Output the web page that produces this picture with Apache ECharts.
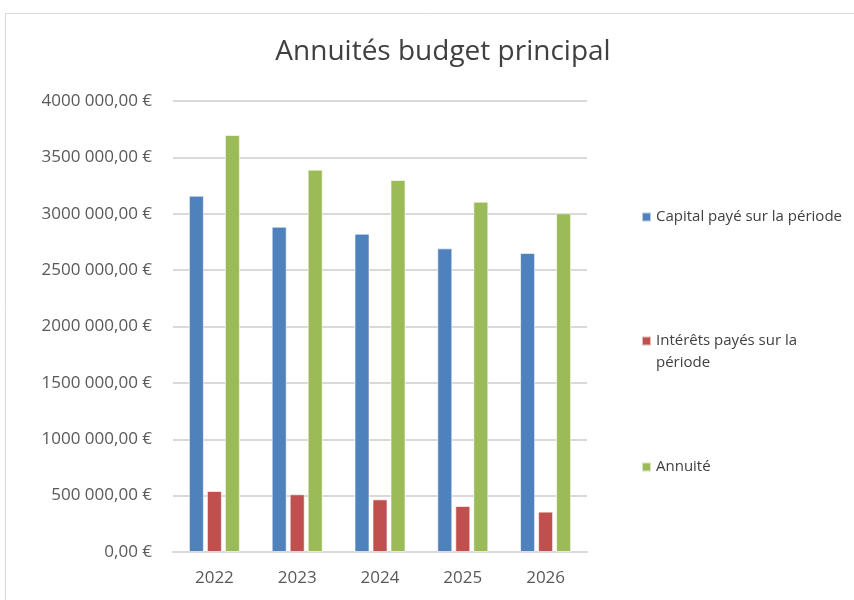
<!DOCTYPE html>
<html>
<head>
<meta charset="utf-8">
<script src="https://cdn.jsdelivr.net/npm/echarts@6/dist/echarts.min.js"></script>
<style>html,body{margin:0;padding:0;background:#fff}#c{width:854px;height:600px}</style>
</head>
<body>
<div id="c"></div>
<script>
const categories = ['2022', '2023', '2024', '2025', '2026'];
const capital = [3160000, 2885000, 2823000, 2693000, 2652000];
const interets = [541000, 512000, 467000, 408000, 358000];
const annuite = [3698000, 3391000, 3299000, 3107000, 3004000];
const seriesNames = ['Capital payé sur la période', 'Intérêts payés sur la période', 'Annuité'];
const tickValues = [0, 500000, 1000000, 1500000, 2000000, 2500000, 3000000, 3500000, 4000000];
const tickLabels = ['0,00 €', '500 000,00 €', '1000 000,00 €', '1500 000,00 €', '2000 000,00 €', '2500 000,00 €', '3000 000,00 €', '3500 000,00 €', '4000 000,00 €'];

const font = '"Open Sans", sans-serif';
const chart = echarts.init(document.getElementById('c'), null, {renderer: 'canvas'});
const colors = ['#4f81bd', '#c0504d', '#9bbb59'];
const legendBase = {
  orient: 'vertical', left: 641, itemWidth: 9, itemHeight: 9, icon: 'rect', padding: 0, itemGap: 0,
  textStyle: {fontFamily: font, fontSize: 15, color: '#404040', lineHeight: 22}
};
chart.setOption({
  animation: false,
  backgroundColor: '#fff',
  color: colors,
  title: {
    text: 'Annuités budget principal', left: 438, top: 33, textAlign: 'center',
    textStyle: {fontFamily: font, fontSize: 28, fontWeight: 'normal', color: '#404040'}
  },
  graphic: [{
    type: 'polyline', silent: true,
    shape: {points: [[5.5, 600], [5.5, 13.5], [854, 13.5]]},
    style: {stroke: '#d9d9d9', lineWidth: 1, fill: null}
  }],
  legend: [
    Object.assign({}, legendBase, {top: 206, data: [seriesNames[0]]}),
    Object.assign({}, legendBase, {top: 308, data: [seriesNames[1]],
      formatter: () => '\u00a0\nIntérêts payés sur la\npériode'}),
    Object.assign({}, legendBase, {top: 456, data: [seriesNames[2]]})
  ],
  grid: {left: 173, right: 267, top: 101, bottom: 48, containLabel: false},
  xAxis: {
    type: 'category', data: categories,
    axisLine: {lineStyle: {color: '#d9d9d9', width: 2}},
    axisTick: {show: false},
    axisLabel: {fontFamily: font, fontSize: 17, color: '#595959', margin: 18}
  },
  yAxis: {
    type: 'value', min: 0, max: 4000000, interval: 500000,
    axisLine: {show: false}, axisTick: {show: false},
    splitLine: {lineStyle: {color: '#d9d9d9', width: 2}},
    axisLabel: {
      fontFamily: font, fontSize: 17, color: '#595959', margin: 21,
      formatter: v => tickLabels[tickValues.indexOf(v)]
    }
  },
  series: [capital, interets, annuite].map((d, i) => ({
    name: seriesNames[i], type: 'bar', data: d, barWidth: 15, barGap: '20%',
    itemStyle: {color: colors[i], borderColor: 'rgba(255,255,255,0.6)', borderWidth: 1}
  }))
});
</script>
</body>
</html>
